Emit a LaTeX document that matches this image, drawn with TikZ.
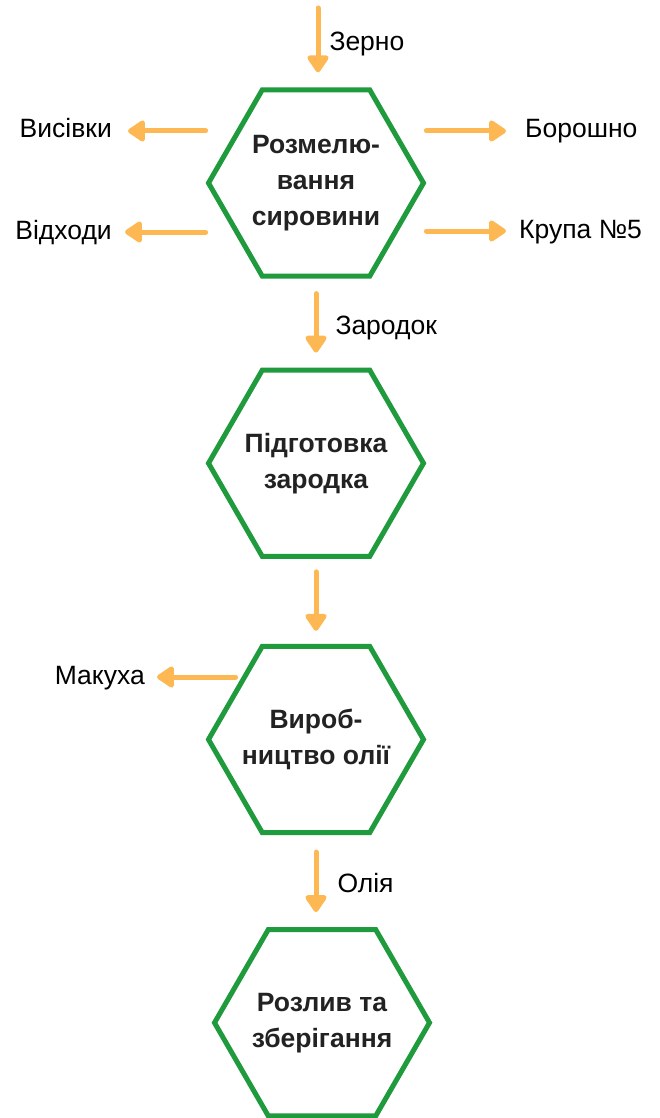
\documentclass[tikz,border=0pt]{standalone}
\usepackage{fontspec}
\setmainfont{Liberation Sans}
\usepackage{xcolor}
\usetikzlibrary{shapes.geometric,arrows.meta,positioning,calc}
\definecolor{hexgreen}{HTML}{1F9A3C}
\definecolor{flowor}{HTML}{FDB853}
\definecolor{hextext}{HTML}{222222}

\begin{document}
\begin{tikzpicture}[x=1pt, y=-1pt, >={Triangle[width=24pt,length=19pt,round]}]
        \tikzstyle{hex} = [regular polygon, regular polygon sides=6, draw=hexgreen, line width=5pt, minimum size=215pt, inner sep=0pt]
        \tikzstyle{hextxt} = [align=center, text=hextext, inner sep=0pt, font=\fontsize{26.5}{36}\selectfont\bfseries]
        \tikzstyle{lbl} = [font=\fontsize{26.5}{30}\selectfont, inner sep=0pt, text height=19pt, text depth=5pt]
        \tikzstyle{flow} = [draw=flowor, line width=5pt, line cap=round, ->]

        \useasboundingbox (0,0) rectangle (660,1118);

        % hexagon steps
        \node [hex] (rozmel) at (316,183) {};
        \node [hex, below=89pt of rozmel] (pidgot) {};
        \node [hex, below=85pt of pidgot] (vyrob) {};
        \node [hex, below=92pt of vyrob, xshift=6pt] (rozlyv) {};
        \node [hextxt] (rozmeltxt) at (rozmel.center) {Розмелю-\\вання\\сировини};
        \node [hextxt] (pidgottxt) at (pidgot.center) {Підготовка\\зародка};
        \node [hextxt] (vyrobtxt) at (vyrob.center) {Вироб-\\ництво олії};
        \node [hextxt] (rozlyvtxt) at (rozlyv.center) {Розлив та\\зберігання};

        % side outputs
        \node [lbl, anchor=east] (vysivky) at (112,131) {Висівки};
        \node [lbl, anchor=east] (vidkhody) at (112,232) {Відходи};
        \node [lbl, anchor=west] (boroshno) at (525,131) {Борошно};
        \node [lbl, anchor=west] (krupa) at (519,231) {Крупа №5};
        \node [lbl, anchor=east] (makukha) at (145,677) {Макуха};
        \coordinate (grain) at (318,8);

        \draw [flow, shorten >=15pt] (grain) -- node[lbl, right=9pt, pos=0.45] (zerno) {Зерно} (grain |- rozmel.north);
        \draw [flow, shorten >=16pt] (rozmel.west |- vysivky) -- (vysivky.east);
        \draw [flow, shorten >=13pt] (rozmel.west |- vidkhody) -- (vidkhody.east);
        \draw [flow, shorten >=19pt] (rozmel.east |- boroshno) -- (boroshno.west);
        \draw [flow, shorten >=13pt] (rozmel.east |- krupa) -- (krupa.west);
        \draw [flow, shorten <=15pt, shorten >=15pt] (rozmel.south) -- node[lbl, right=17pt, yshift=-4pt] (zarodok) {Зародок} (pidgot.north);
        \draw [flow, shorten <=13pt, shorten >=13pt] (pidgot.south) -- (vyrob.north);
        \draw [flow, shorten >=12pt] ($(vyrob.west |- makukha)+(30,0)$) -- (makukha.east);
        \draw [flow, shorten <=17pt, shorten >=15pt] (vyrob.south) -- node[lbl, right=19pt, yshift=-4pt] (oliya) {Олія} (vyrob.south |- rozlyv.north);
\end{tikzpicture}
\end{document}
